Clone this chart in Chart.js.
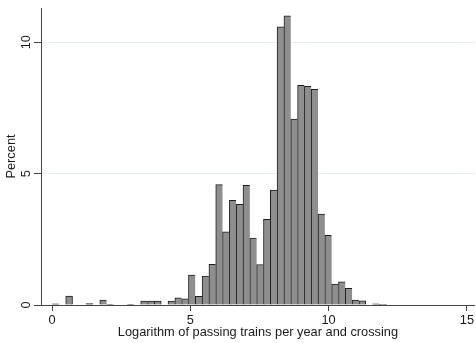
<!DOCTYPE html>
<html>
<head>
<meta charset="utf-8">
<script src="https://cdn.jsdelivr.net/npm/chart.js@4.4.0/dist/chart.umd.min.js"></script>
<style>
html,body{margin:0;padding:0;background:#fff;}
#wrap{width:476px;height:343px;position:relative;}
</style>
</head>
<body>
<div id="wrap"><canvas id="c" width="476" height="343"></canvas></div>
<script>
// Histogram data: bin start, bin width, percent per bin (null = empty bin)
const binStart = 0;
const binWidth = 0.2466;
const percent = [
  0.04, null, 0.34, null, null, 0.05, null, 0.19, 0.03, null,
  null, 0.03, null, 0.15, 0.15, 0.15, null, 0.15, 0.27, 0.23,
  1.14, 0.33, 1.10, 1.55, 4.58, 2.78, 3.98, 3.83, 4.55, 2.55,
  1.54, 3.26, 4.37, 10.58, 11.0, 7.07, 8.36, 8.32, 8.21, 3.46,
  2.65, 0.80, 0.88, 0.63, 0.19, 0.16, null, 0.04, 0.01
];
const xTicks = [0, 5, 10, 15];
const yTicks = [0, 5, 10];
const xTitle = 'Logarithm of passing trains per year and crossing';
const yTitle = 'Percent';

const points = percent.map((v, i) => ({x: binStart + (i + 0.5) * binWidth, y: v}));

const font = {family: '"Liberation Sans", Arial, sans-serif', size: 12.8};
const textColor = '#1a1a1a';
const axisColor = '#444';

new Chart(document.getElementById('c'), {
  type: 'bar',
  data: {
    datasets: [{
      data: points,
      backgroundColor: '#8e8e8e',
      borderColor: '#1e1e1e',
      borderWidth: (ctx) => {
        const i = ctx.dataIndex;
        const next = percent[i + 1];
        return {top: 1, left: 1, bottom: 0, right: (next !== null && next !== undefined) ? 0 : 1};
      },
      borderSkipped: false,
      barPercentage: 1,
      categoryPercentage: 1
    }]
  },
  options: {
    responsive: false,
    animation: false,
    devicePixelRatio: 1,
    layout: {padding: {top: 8, right: 0, bottom: 0, left: 0}},
    plugins: {legend: {display: false}, tooltip: {enabled: false}},
    scales: {
      x: {
        type: 'linear',
        min: -0.4,
        max: 15.29,
        offset: false,
        afterFit: (s) => { s.height = 38; },
        afterBuildTicks: (s) => { s.ticks = xTicks.map(v => ({value: v})); },
        grid: {display: true, offset: false, drawOnChartArea: false, drawTicks: true, tickLength: 6, tickColor: axisColor, color: axisColor},
        border: {display: true, color: axisColor, width: 1},
        ticks: {font: font, color: textColor, padding: 2, maxRotation: 0, minRotation: 0,
                callback: (v) => String(v)},
        title: {display: true, text: xTitle, font: font, color: textColor, padding: {top: 0, bottom: 3}}
      },
      y: {
        type: 'linear',
        min: 0,
        max: 11.3,
        afterFit: (s) => { s.width = 41; },
        afterBuildTicks: (s) => { s.ticks = yTicks.map(v => ({value: v})); },
        grid: {display: true, offset: false, drawOnChartArea: true, drawTicks: true, tickLength: 7, tickColor: axisColor, color: '#e4eeef', lineWidth: 1},
        border: {display: true, color: axisColor, width: 1},
        ticks: {font: font, color: textColor, padding: 0, minRotation: 90, maxRotation: 90, crossAlign: 'center',
                callback: (v) => String(v)},
        title: {display: true, text: yTitle, font: font, color: textColor, padding: {top: 4, bottom: 0}}
      }
    }
  }
});
</script>
</body>
</html>
